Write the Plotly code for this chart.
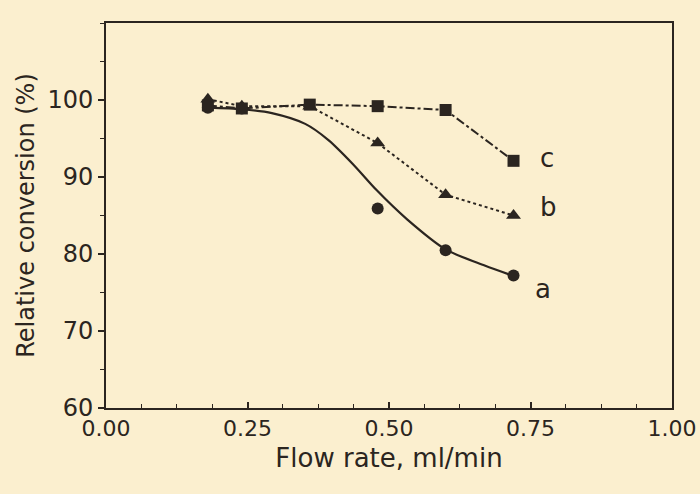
import plotly.graph_objects as go

# series a (circles)
xa = [0.18, 0.24, 0.48, 0.60, 0.72]
ya = [99.0, 98.9, 85.9, 80.5, 77.2]
# fitted curve for a
xa_fit = [0.18, 0.24, 0.293, 0.352, 0.393, 0.436, 0.478, 0.532, 0.600, 0.669, 0.718]
ya_fit = [99.0, 98.8, 98.3, 96.9, 94.8, 91.7, 88.3, 84.5, 80.6, 78.5, 77.2]
# series b (triangles)
xb = [0.18, 0.24, 0.36, 0.48, 0.60, 0.72]
yb = [100.1, 99.2, 99.2, 94.4, 87.7, 85.0]
# series c (squares)
xc = [0.18, 0.24, 0.36, 0.48, 0.60, 0.72]
yc = [99.3, 98.9, 99.4, 99.2, 98.7, 92.1]

labels = ["a", "b", "c"]
label_x = [0.772, 0.782, 0.779]
label_y = [75.4, 86.1, 92.5]

x_ticks = [0, 0.25, 0.5, 0.75, 1.0]
x_ticktext = ["0.00", "0.25", "0.50", "0.75", "1.00"]
y_ticks = [60, 70, 80, 90, 100]

ink = "#2b2520"
bg = "#fbefcf"
font = "DejaVu Sans"

fig = go.Figure()
fig.add_trace(go.Scatter(x=xa_fit, y=ya_fit, mode="lines",
                         line=dict(color=ink, width=2.2, shape="spline", smoothing=0.8),
                         hoverinfo="skip", showlegend=False))
fig.add_trace(go.Scatter(x=xa, y=ya, mode="markers", marker=dict(symbol="circle", size=12, color=ink),
                         showlegend=False))
fig.add_trace(go.Scatter(x=xb, y=yb, mode="lines+markers", line=dict(color=ink, width=2, dash="dot"),
                         marker=dict(symbol="triangle-up", size=13, color=ink), showlegend=False))
fig.add_trace(go.Scatter(x=xc, y=yc, mode="lines+markers", line=dict(color=ink, width=2, dash="dashdot"),
                         marker=dict(symbol="square", size=12, color=ink), showlegend=False))

for t, lx, ly in zip(labels, label_x, label_y):
    fig.add_annotation(x=lx, y=ly, text=t, showarrow=False, xanchor="center", yanchor="middle",
                       font=dict(family=font, size=26, color=ink))

fig.update_xaxes(range=[0, 1.0], tickvals=x_ticks, ticktext=x_ticktext, showline=True, linecolor=ink,
                 linewidth=2, mirror=True, ticks="inside", ticklen=6, tickwidth=1.5, tickcolor=ink,
                 minor=dict(dtick=0.0625, ticks="inside", ticklen=4, tickcolor=ink, tickwidth=1.2),
                 showgrid=False, zeroline=False, ticklabeloverflow="allow", automargin=False,
                 tickfont=dict(family=font, size=22, color=ink),
                 title=dict(text="Flow rate, ml/min", font=dict(family=font, size=26, color=ink), standoff=8))
fig.update_yaxes(range=[60, 110], tickvals=y_ticks, showline=True, linecolor=ink,
                 linewidth=2, mirror=True, ticks="outside", ticklen=6, tickwidth=1.5, tickcolor=ink,
                 minor=dict(dtick=5, ticks="outside", ticklen=4, tickcolor=ink, tickwidth=1.2),
                 showgrid=False, zeroline=False, automargin=False,
                 tickfont=dict(family=font, size=24, color=ink),
                 title=dict(text="Relative conversion (%)", font=dict(family=font, size=24, color=ink), standoff=6))

fig.update_layout(width=700, height=494, margin=dict(l=106, r=28, t=23, b=86),
                  paper_bgcolor=bg, plot_bgcolor=bg)
fig.write_html("out.html", config={"displayModeBar": False},
               post_script="document.body.style.margin='0';document.body.style.background='" + bg + "';")
